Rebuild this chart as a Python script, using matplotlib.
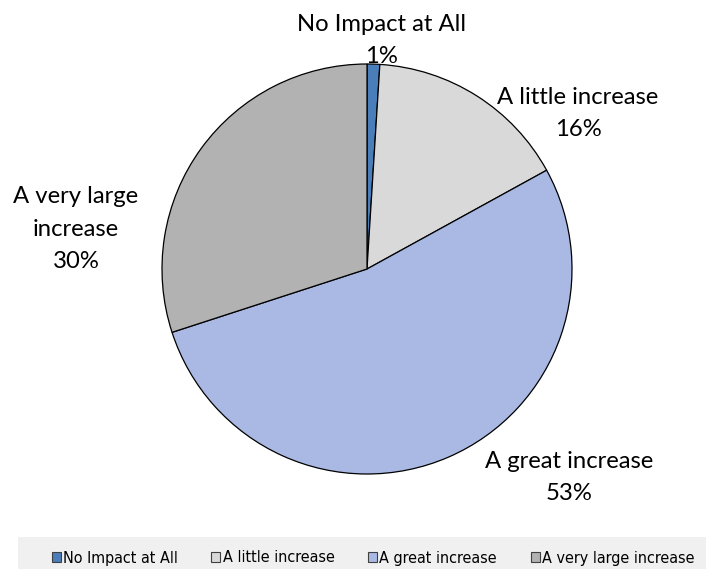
import matplotlib.pyplot as plt
from matplotlib.patches import Rectangle

categories = ["No Impact at All", "A little increase", "A great increase", "A very large increase"]
values = [1, 16, 53, 30]
colors = ["#4a7ebb", "#d9d9d9", "#a9b9e4", "#b2b2b2"]
# label text split over lines; anchor is the baseline of the percent line (axis units)
label_text = ["No Impact at All", "A little increase", "A great increase", "A very large\nincrease"]
label_pos = [(0.073, 1.005), (1.029, 0.649), (0.985, -1.127), (-1.420, 0.005)]

W, H = 706, 569
fig = plt.figure(figsize=(W / 100, H / 100), dpi=100)

# pie centre (367, 269) px, radius 205 px
cx, cy, r = 367, 269, 205
ax = fig.add_axes([(cx - r) / W, (H - cy - r) / H, 2 * r / W, 2 * r / H])
wedges, _ = ax.pie(values, colors=colors, startangle=90, counterclock=False,
                   radius=1, wedgeprops=dict(edgecolor="black", linewidth=0.9))
ax.set_xlim(-1, 1)
ax.set_ylim(-1, 1)
ax.set_aspect("equal")
ax.axis("off")

for txt, v, (x, y) in zip(label_text, values, label_pos):
    ax.text(x, y, f"{txt}\n{v}%", ha="center", va="baseline", fontsize=17.2,
            family=["Lato", "DejaVu Sans"], linespacing=1.67, multialignment="center",
            clip_on=False)

# legend strip
fig.patches.append(Rectangle((18 / W, 0), 1 - 18 / W, 32 / H, transform=fig.transFigure,
                             facecolor="#f0f0f0", edgecolor="none", zorder=0))
handles = [Rectangle((0, 0), 1, 1, facecolor=c, edgecolor="#404040", linewidth=0.8) for c in colors]
fig.legend(handles, categories, loc="center", bbox_to_anchor=(373 / W, 11 / H), ncol=4,
           frameon=False, handlelength=0.56, handleheight=0.56, handletextpad=0.15,
           columnspacing=2.1, borderpad=0, borderaxespad=0,
           prop={"family": "DejaVu Sans", "stretch": "condensed", "size": 11.5})

fig.savefig("out.png", dpi=100)
